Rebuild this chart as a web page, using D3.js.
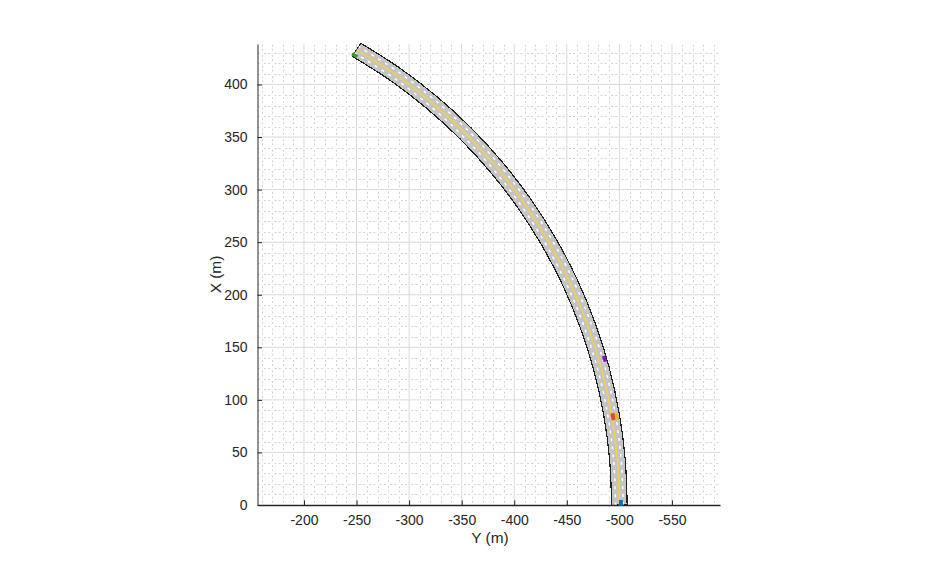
<!DOCTYPE html>
<html>
<head>
<meta charset="utf-8">
<script src="https://cdn.jsdelivr.net/npm/d3@7"></script>
<style>
html, body { margin: 0; background: #fff; }
text { font-family: "Liberation Sans", Arial, sans-serif; fill: #262626; }
</style>
</head>
<body>
<svg id="chart" width="946" height="569"></svg>
<script>
// road centre line, in metres
const roadX = [0, 43.6, 86.8, 129.4, 171, 211.3, 250, 286.8, 321.4, 353.6, 383, 409.6, 433];
const roadY = [-500, -498.1, -492.4, -483, -469.8, -453.2, -433, -409.6, -383, -353.6, -321.4, -286.8, -250];
const laneOffsets = [-3.6, 3.6];

// vehicles: X, Y, heading (deg), length, width, colour
const carX = [2, 139, 84, 84, 427.7];
const carY = [-501.6, -485.8, -494, -497.6, -248.2];
const carHeading = [0, -16, -10, -10, -60];
const carLen = [6, 6, 7, 6, 6];
const carWid = [3.5, 3.5, 4, 3.5, 3.5];
const carColor = ["#0072bd", "#7a1fb0", "#d95319", "#edb120", "#2e9e2e"];

const xTicks = [-200, -250, -300, -350, -400, -450, -500, -550];
const yTicks = [0, 50, 100, 150, 200, 250, 300, 350, 400];

const left = 257.5, right = 720, top_ = 44, bottom = 505;
const x = d3.scaleLinear().domain([-155.8, -595.7]).range([left, right]);
const y = d3.scaleLinear().domain([0, 438.5]).range([bottom, top_]);

const svg = d3.select("#chart");
const plot = svg.append("g");

// minor grid every 10 m
const xMinor = d3.range(-590, -150, 10).filter(d => d % 50 !== 0);
const yMinor = d3.range(10, 438, 10).filter(d => d % 50 !== 0);
plot.selectAll(".vminor").data(xMinor).enter().append("line")
    .attr("x1", d => Math.round(x(d)) + 0.5).attr("x2", d => Math.round(x(d)) + 0.5)
    .attr("y1", bottom).attr("y2", top_)
    .attr("stroke", "#d2d2d2").attr("stroke-dasharray", "2 2 2 4.514")
    .attr("stroke-dashoffset", -2.25);
plot.selectAll(".hminor").data(yMinor).enter().append("line")
    .attr("y1", d => Math.round(y(d)) + 0.5).attr("y2", d => Math.round(y(d)) + 0.5)
    .attr("x1", left).attr("x2", right)
    .attr("stroke", "#d2d2d2").attr("stroke-dasharray", "2 2 2 4.514")
    .attr("stroke-dashoffset", -6.65);

// major grid
plot.selectAll(".vmajor").data(xTicks).enter().append("line")
    .attr("x1", d => x(d)).attr("x2", d => x(d))
    .attr("y1", bottom).attr("y2", top_)
    .attr("stroke", "#d9d9d9");
plot.selectAll(".hmajor").data(yTicks.slice(1)).enter().append("line")
    .attr("y1", d => y(d)).attr("y2", d => y(d))
    .attr("x1", left).attr("x2", right)
    .attr("stroke", "#d9d9d9");

const pts = roadX.map((d, i) => [d, roadY[i]]);
const line = d3.line().x(d => x(d[1])).y(d => y(d[0])).curve(d3.curveCatmullRom);

// shift the centre line sideways by off metres
function offsetPts(off) {
    return pts.map((p, i) => {
        const a = pts[Math.max(i - 1, 0)], b = pts[Math.min(i + 1, pts.length - 1)];
        const dx = b[0] - a[0], dy = b[1] - a[1], len = Math.hypot(dx, dy);
        return [p[0] - off * dy / len, p[1] + off * dx / len];
    });
}

// road outline, closed across both ends
const sideA = line(offsetPts(7.4));
const sideB = line(offsetPts(-7.4).reverse());
plot.append("path").attr("d", sideA + "L" + sideB.slice(1) + "Z")
    .attr("fill", "#c4c4c4").attr("stroke", "#222").attr("stroke-width", 1.2)
    .attr("stroke-linejoin", "round").attr("shape-rendering", "crispEdges");
laneOffsets.forEach(off => {
    plot.append("path").attr("d", line(offsetPts(off))).attr("fill", "none")
        .attr("stroke", "#fff").attr("stroke-width", 1.5).attr("stroke-dasharray", "3 5");
});
plot.append("path").attr("d", line(pts)).attr("fill", "none")
    .attr("stroke", "#f4cf4e").attr("stroke-width", 1.5);

// axes
const xAxis = d3.axisBottom(x).tickValues(xTicks).tickSize(-4.6).tickSizeOuter(0).tickPadding(10).tickFormat(d => d);
const yAxis = d3.axisLeft(y).tickValues(yTicks).tickSize(-4.6).tickSizeOuter(0).tickPadding(10);
const gx = svg.append("g").attr("transform", `translate(0,${bottom})`).call(xAxis);
const gy = svg.append("g").attr("transform", `translate(${left},0)`).call(yAxis);
[gx, gy].forEach(g => {
    g.attr("font-family", null).attr("font-size", null);
    g.selectAll("text").style("font-size", "14px");
    g.selectAll("line").attr("stroke", "#262626");
    g.select(".domain").attr("stroke", "#262626");
});
gx.select(".domain").attr("stroke-width", 1.4);

// vehicles
carX.forEach((d, i) => {
    svg.append("rect")
        .attr("x", -carWid[i] / 2).attr("y", -carLen[i] / 2)
        .attr("width", carWid[i]).attr("height", carLen[i])
        .attr("fill", carColor[i])
        .attr("transform", `translate(${x(carY[i])},${y(d)}) rotate(${carHeading[i]})`);
});

svg.append("text").attr("x", 490).attr("y", 543).attr("text-anchor", "middle")
    .style("font-size", "15.4px").text("Y (m)");
svg.append("text").attr("transform", "translate(221,274.5) rotate(-90)").attr("text-anchor", "middle")
    .style("font-size", "15.4px").text("X (m)");
</script>
</body>
</html>
